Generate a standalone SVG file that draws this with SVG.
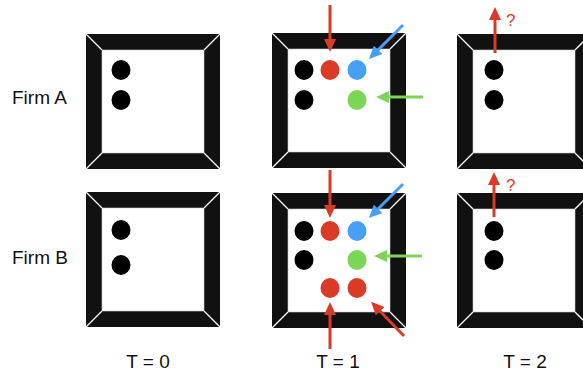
<svg xmlns="http://www.w3.org/2000/svg" width="583" height="373" viewBox="0 0 583 373">
<style>
.lbl{font-family:"Liberation Sans",Arial,Helvetica,sans-serif;font-size:19px;fill:#111}
.q{font-family:"Liberation Sans",Arial,Helvetica,sans-serif;font-size:17px;fill:#DB3B26}
.blk{fill:#000}
.red{fill:#DB3B26}
.blue{fill:#47A0F7}
.green{fill:#7CD656}
.ar{stroke:#DB3B26;stroke-width:3;fill:none}
.ab{stroke:#47A0F7;stroke-width:3;fill:none}
.ag{stroke:#7CD656;stroke-width:3;fill:none}
</style>
<defs>
<symbol id="frame" width="134" height="135" viewBox="0 0 134 135" overflow="visible">
<rect x="0" y="0" width="134" height="135" fill="#111"/>
<rect x="16" y="16" width="102" height="103" fill="#fff" stroke="#ccc" stroke-width="0.6"/>
<g stroke="#fff" stroke-width="1.3">
<line x1="0" y1="0" x2="16" y2="16"/>
<line x1="134" y1="0" x2="118" y2="16"/>
<line x1="0" y1="135" x2="16" y2="119"/>
<line x1="134" y1="135" x2="118" y2="119"/>
</g>
</symbol>
<marker id="mr" markerUnits="userSpaceOnUse" markerWidth="14" markerHeight="12" refX="3" refY="6" orient="auto"><path d="M0,0 L13,6 L0,12 z" fill="#DB3B26"/></marker>
<marker id="mb" markerUnits="userSpaceOnUse" markerWidth="14" markerHeight="12" refX="3" refY="6" orient="auto"><path d="M0,0 L13,6 L0,12 z" fill="#47A0F7"/></marker>
<marker id="mg" markerUnits="userSpaceOnUse" markerWidth="14" markerHeight="12" refX="3" refY="6" orient="auto"><path d="M0,0 L13,6 L0,12 z" fill="#7CD656"/></marker>
</defs>

<g id="labels">
<text class="lbl" x="12" y="104">Firm A</text>
<text class="lbl" x="12" y="264">Firm B</text>
<text class="lbl" x="148" y="368" text-anchor="middle">T = 0</text>
<text class="lbl" x="338" y="368" text-anchor="middle">T = 1</text>
<text class="lbl" x="525" y="368" text-anchor="middle">T = 2</text>
</g>

<g id="firmA-t0">
<use href="#frame" x="86" y="34"/>
<ellipse class="blk" cx="121" cy="70" rx="9.5" ry="10"/>
<ellipse class="blk" cx="121" cy="100" rx="9.5" ry="10"/>
</g>

<g id="firmB-t0">
<use href="#frame" x="86" y="192"/>
<ellipse class="blk" cx="121" cy="230" rx="9.5" ry="10"/>
<ellipse class="blk" cx="121" cy="265" rx="9.5" ry="10"/>
</g>

<g id="firmA-t1">
<use href="#frame" x="272" y="33"/>
<ellipse class="blk" cx="304" cy="70" rx="9.5" ry="10"/>
<ellipse class="red" cx="330" cy="70" rx="9.5" ry="10"/>
<ellipse class="blue" cx="357" cy="70" rx="9.5" ry="10"/>
<ellipse class="blk" cx="304" cy="100" rx="9.5" ry="10"/>
<ellipse class="green" cx="357" cy="100" rx="9.5" ry="10"/>
</g>

<g id="firmB-t1">
<use href="#frame" x="272" y="193"/>
<ellipse class="blk" cx="304" cy="231" rx="9.5" ry="10"/>
<ellipse class="red" cx="330" cy="231" rx="9.5" ry="10"/>
<ellipse class="blue" cx="357" cy="231" rx="9.5" ry="10"/>
<ellipse class="blk" cx="304" cy="260" rx="9.5" ry="10"/>
<ellipse class="green" cx="357" cy="260" rx="9.5" ry="10"/>
<ellipse class="red" cx="330" cy="288" rx="9.5" ry="10"/>
<ellipse class="red" cx="357" cy="288" rx="9.5" ry="10"/>
</g>

<g id="firmA-t2">
<use href="#frame" x="457" y="34"/>
<ellipse class="blk" cx="494" cy="70" rx="9.5" ry="10"/>
<ellipse class="blk" cx="494" cy="100" rx="9.5" ry="10"/>
<text class="q" x="506" y="26">?</text>
</g>

<g id="firmB-t2">
<use href="#frame" x="457" y="193"/>
<ellipse class="blk" cx="494" cy="231" rx="9.5" ry="10"/>
<ellipse class="blk" cx="494" cy="260" rx="9.5" ry="10"/>
<text class="q" x="506" y="191">?</text>
</g>

<g id="connectors">
<line class="ar" x1="330" y1="5" x2="330" y2="42" marker-end="url(#mr)"/>
<line class="ab" x1="403" y1="25" x2="376" y2="52" marker-end="url(#mb)"/>
<line class="ag" x1="423" y1="97" x2="386" y2="97" marker-end="url(#mg)"/>
<line class="ar" x1="495" y1="53" x2="495" y2="17" marker-end="url(#mr)"/>
<line class="ar" x1="330" y1="170" x2="330" y2="208" marker-end="url(#mr)"/>
<line class="ab" x1="403" y1="184" x2="376" y2="211" marker-end="url(#mb)"/>
<line class="ag" x1="422" y1="256" x2="384" y2="256" marker-end="url(#mg)"/>
<line class="ar" x1="330" y1="349" x2="330" y2="312" marker-end="url(#mr)"/>
<line class="ar" x1="404" y1="336" x2="378" y2="309" marker-end="url(#mr)"/>
<line class="ar" x1="494" y1="217" x2="494" y2="182" marker-end="url(#mr)"/>
</g>
</svg>
